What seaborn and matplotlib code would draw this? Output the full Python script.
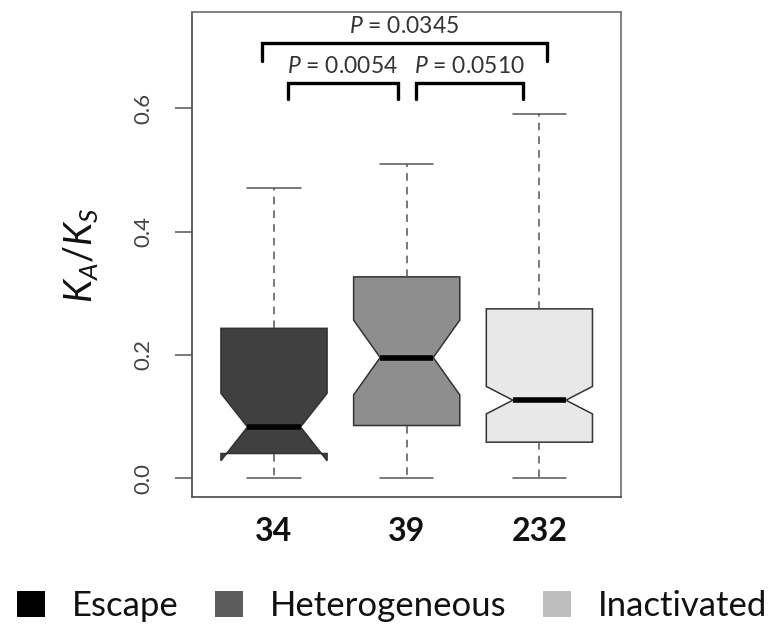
import numpy as np
import pandas as pd
import matplotlib
matplotlib.use("Agg")
import matplotlib.pyplot as plt
from matplotlib.patches import Patch
import seaborn as sns

# ---- data ----
groups = ["34", "39", "232"]           # category labels (group sizes)
n_obs = [34, 39, 232]
whisker_lo = [0.000, 0.000, 0.000]
q1 = [0.040, 0.0854, 0.0584]
median = [0.083, 0.1957, 0.1265]
q3 = [0.243, 0.3265, 0.2746]
whisker_hi = [0.470, 0.509, 0.590]

box_colors = ["#404040", "#8e8e8e", "#e8e8e8"]
legend_labels = ["Escape", "Heterogeneous", "Inactivated"]
legend_colors = ["#000000", "#5c5c5c", "#bebebe"]

# comparisons: (group i, group j, p-value label)
comparisons = [("34", "39", "0.0054"), ("39", "232", "0.0510"), ("34", "232", "0.0345")]


def summary_sample(lo, a, m, b, hi, n):
    vals = np.empty(n)
    mid_lo, mid_hi = (n - 1) // 2, n // 2
    vals[0] = lo
    vals[-1] = hi
    vals[1:mid_lo] = a
    vals[mid_lo:mid_hi + 1] = m
    vals[mid_hi + 1:-1] = b
    return vals


df = pd.DataFrame({
    "group": np.repeat(groups, n_obs),
    "ratio": np.concatenate([summary_sample(*s) for s in
                             zip(whisker_lo, q1, median, q3, whisker_hi, n_obs)]),
})

sns.set_theme(style="white")
plt.rcParams["font.family"] = ["Lato", "DejaVu Sans"]
plt.rcParams["mathtext.fontset"] = "custom"
plt.rcParams["mathtext.it"] = "Lato:italic"
plt.rcParams["mathtext.rm"] = "Lato"

fig = plt.figure(figsize=(7.78, 6.27), dpi=100)
ax = fig.add_axes([192 / 778, 1 - 497.3 / 627, (621 - 192) / 778, (497.3 - 12) / 627])

sns.boxplot(
    data=df, x="group", y="ratio", hue="group", order=groups, hue_order=groups,
    palette=box_colors, legend=False, notch=True, width=0.8, showfliers=False,
    linecolor="#333333", linewidth=1.1,
    whiskerprops=dict(linestyle=(0, (5, 4)), color="#555555", linewidth=1.1),
    capprops=dict(color="#555555", linewidth=1.1),
    medianprops=dict(color="black", linewidth=4),
    ax=ax,
)

ax.set_xlim(-0.618, 2.615)
ax.set_ylim(-0.031, 0.756)

# axes styling
for sp in ax.spines.values():
    sp.set_visible(True)
    sp.set_color("#777777")
    sp.set_linewidth(1.3)
ax.spines["left"].set_color("#555555")
ax.spines["bottom"].set_color("#555555")

ax.set_yticks([0.0, 0.2, 0.4, 0.6])
ax.set_yticklabels(["0.0", "0.2", "0.4", "0.6"], rotation=90, va="center",
                   fontsize=16, color="#444444")
ax.tick_params(axis="y", direction="out", length=12, width=1.1, color="#555555",
               pad=16, left=True)
ax.tick_params(axis="x", length=0, pad=14)
ax.set_xticks(range(len(groups)))
ax.set_xticklabels(groups, fontsize=23, fontweight="bold", color="#111111")
ax.set_xlabel("")
ax.set_ylabel(r"$K_A/K_S$", fontsize=27, color="#111111", labelpad=24)

# significance brackets
bracket_specs = {
    ("34", "39"): (0.103, 0.932, 0.615, 0.6406, 0.668),
    ("39", "232"): (1.070, 1.879, 0.615, 0.6406, 0.668),
    ("34", "232"): (-0.093, 2.055, 0.677, 0.7065, 0.732),
}
for g1, g2, p in comparisons:
    x1, x2, y0, y1, yt = bracket_specs[(g1, g2)]
    ax.plot([x1, x1, x2, x2], [y0, y1, y1, y0], color="black", lw=2.4,
            solid_joinstyle="miter", clip_on=False)
    ax.text((x1 + x2) / 2, yt, r"$P$ = " + p, ha="center", va="center",
            fontsize=16.5, color="#333333")

# legend
handles = [Patch(facecolor=c, edgecolor="none") for c in legend_colors]
fig.legend(handles, legend_labels, loc="lower left", bbox_to_anchor=(17 / 778, 5 / 627),
           ncol=3, frameon=False, fontsize=25, handlelength=0.8, handleheight=0.8,
           handletextpad=0.78, columnspacing=1.05, borderpad=0, borderaxespad=0,
           labelcolor="#111111")

fig.savefig("out.png", dpi=100)
